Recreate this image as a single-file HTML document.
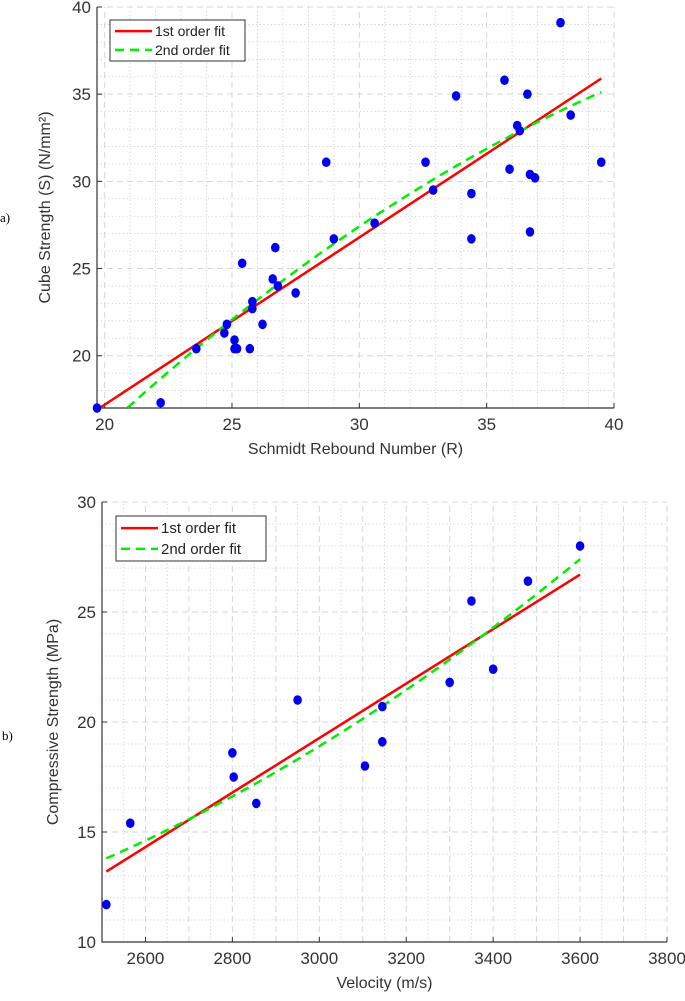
<!DOCTYPE html>
<html><head><meta charset="utf-8">
<style>
html,body{margin:0;padding:0;background:#fff;}
svg{display:block;font-family:"Liberation Sans",sans-serif;}
</style></head>
<body>
<svg id="chart" width="685" height="1001" viewBox="0 0 685 1001">
<text x="0" y="222" font-family="Liberation Serif,serif" font-size="13" fill="#000">a)</text>
<text x="2" y="740" font-family="Liberation Serif,serif" font-size="13" fill="#000">b)</text>
</svg>
<script>
// ---- Chart A data ----
const aRebound = [19.7,22.2,23.6,24.7,24.8,25.1,25.1,25.2,25.4,25.7,25.8,25.8,26.2,26.6,26.7,26.8,27.5,28.7,29.0,30.6,32.6,32.9,33.8,34.4,34.4,35.7,35.9,36.2,36.3,36.6,36.7,36.7,36.9,37.9,38.3,39.5];
const aStrength = [17.0,17.3,20.4,21.3,21.8,20.9,20.4,20.4,25.3,20.4,23.1,22.7,21.8,24.4,26.2,24.0,23.6,31.1,26.7,27.6,31.1,29.5,34.9,29.3,26.7,35.8,30.7,33.2,32.9,35.0,30.4,27.1,30.2,39.1,33.8,31.1];
const aFit1 = [19.7,16.9,39.5,35.9];            // x0,y0,x1,y1
const aFit2Coef = [30.5,27.9,0.962,-0.0178];     // center, a, b, c
const aFit2Range = [20.9,39.5];
const aXTicks = [20,25,30,35,40];
const aYTicks = [20,25,30,35,40];
// ---- Chart B data ----
const bVelocity = [2510,2565,2800,2803,2855,2950,3105,3145,3145,3300,3350,3400,3480,3600];
const bStrength = [11.7,15.4,18.6,17.5,16.3,21.0,18.0,20.7,19.1,21.8,25.5,22.4,26.4,28.0];
const bFit1 = [2510,13.2,3600,26.7];
const bFit2Coef = [3000,18.9,0.012098,3.449e-6];
const bFit2Range = [2510,3600];
const bXTicks = [2600,2800,3000,3200,3400,3600,3800];
const bYTicks = [10,15,20,25,30];

const svg = document.getElementById('chart');
const NS = 'http://www.w3.org/2000/svg';
function mk(tag, attrs, parent){const e=document.createElementNS(NS,tag);for(const k in attrs)e.setAttribute(k,attrs[k]);(parent||svg).appendChild(e);return e;}

function drawChart(cfg){
  const g = mk('g',{});
  
  
  const sx = v => cfg.px0 + (v-cfg.x0)/(cfg.x1-cfg.x0)*(cfg.px1-cfg.px0);
  const sy = v => cfg.py0 - (v-cfg.y0)/(cfg.y1-cfg.y0)*(cfg.py0-cfg.py1);
  for(let v=Math.ceil(cfg.x0/cfg.xMinor)*cfg.xMinor; v<=cfg.x1+1e-9; v+=cfg.xMinor){
    const major = Math.abs(v/cfg.xMajor-Math.round(v/cfg.xMajor))<1e-6;
    const l=mk('line',{x1:sx(v),x2:sx(v),y1:cfg.py0,y2:cfg.py1,stroke:major?'#d6d6d6':'#c8c8c8','stroke-width':major?1:0.8,'stroke-dasharray':major?'6,4':'1.2,2.5'},g);
    
    
  }
  for(let v=Math.ceil(cfg.y0/cfg.yMinor)*cfg.yMinor; v<=cfg.y1+1e-9; v+=cfg.yMinor){
    const major = Math.abs(v/cfg.yMajor-Math.round(v/cfg.yMajor))<1e-6;
    const l=mk('line',{x1:cfg.px0,x2:cfg.px1,y1:sy(v),y2:sy(v),stroke:major?'#d6d6d6':'#c8c8c8','stroke-width':major?1:0.8,'stroke-dasharray':major?'6,4':'1.2,2.5'},g);
    
    
  }
  const ax=mk('path',{d:`M${cfg.px0},${cfg.py1} L${cfg.px0},${cfg.py0} L${cfg.px1},${cfg.py0}`,fill:'none',stroke:'#333','stroke-width':1.2},g);
  
  
  cfg.xTicks.forEach(t=>{
    mk('line',{x1:sx(t),x2:sx(t),y1:cfg.py0,y2:cfg.py0-5,stroke:'#333'},g);
    const tx=mk('text',{x:sx(t),y:cfg.py0+22,'text-anchor':'middle','font-size':17,fill:'#333'},g);
    tx.textContent=t;
    
    
  });
  cfg.yTicks.forEach(t=>{
    mk('line',{x1:cfg.px0,x2:cfg.px0+5,y1:sy(t),y2:sy(t),stroke:'#333'},g);
    const tx=mk('text',{x:cfg.px0-6,y:sy(t)+6,'text-anchor':'end','font-size':17,fill:'#333'},g);
    tx.textContent=t;
    
    
  });
  const xt=mk('text',{x:(cfg.px0+cfg.px1)/2,y:cfg.py0+46,'text-anchor':'middle','font-size':16,fill:'#333'},g);
  xt.textContent=cfg.xTitle;
  
  
  const yc=(cfg.py0+cfg.py1)/2;
  const yt=mk('text',{x:cfg.yTitleX,y:yc,'text-anchor':'middle','font-size':16,fill:'#333',transform:`rotate(-90 ${cfg.yTitleX} ${yc})`},g);
  yt.textContent=cfg.yTitle;
  
  
  const f1=mk('line',{x1:sx(cfg.fit1[0]),y1:sy(cfg.fit1[1]),x2:sx(cfg.fit1[2]),y2:sy(cfg.fit1[3]),stroke:'#ff0000','stroke-width':2.5},g);
  
  
  const c=cfg.fit2;let pts=[];
  for(let i=0;i<=60;i++){const x=cfg.fit2r[0]+(cfg.fit2r[1]-cfg.fit2r[0])*i/60;const u=x-c[0];pts.push(sx(x).toFixed(1)+','+sy(c[1]+c[2]*u+c[3]*u*u).toFixed(1));}
  const f2=mk('polyline',{points:pts.join(' '),fill:'none',stroke:'#00ee00','stroke-width':2.5,'stroke-dasharray':'9,6'},g);
  
  
  cfg.xs.forEach((x,i)=>{
    const p=mk('ellipse',{cx:sx(x),cy:sy(cfg.ys[i]),rx:4.3,ry:4.8,fill:'#0000ee'},g);
    
    
  });
  const L=cfg.legend;
  const lg=mk('g',{},g);
  
  
  mk('rect',{x:L[0],y:L[1],width:L[2],height:L[3],fill:'#fff',stroke:'#333','stroke-width':1},lg);
  const r1=L[1]+L[3]*0.27, r2=L[1]+L[3]*0.73;
  mk('line',{x1:L[0]+5,x2:L[0]+42,y1:r1,y2:r1,stroke:'#ff0000','stroke-width':2.5},lg);
  mk('line',{x1:L[0]+5,x2:L[0]+42,y1:r2,y2:r2,stroke:'#00ee00','stroke-width':2.5,'stroke-dasharray':'9,6'},lg);
  const t1=mk('text',{x:L[0]+45,y:r1+5,'font-size':L[4],fill:'#222'},lg);t1.textContent='1st order fit';
  
  
  const t2=mk('text',{x:L[0]+45,y:r2+5,'font-size':L[4],fill:'#222'},lg);t2.textContent='2nd order fit';
  
  
}

drawChart({name:'chart-a-schmidt',x0:19.7,x1:40,y0:17,y1:40,px0:97,px1:614,py0:408,py1:7,
  xMinor:1,xMajor:5,yMinor:1,yMajor:5,xTicks:aXTicks,yTicks:aYTicks,
  xTitle:'Schmidt Rebound Number (R)',yTitle:'Cube Strength (S) (N/mm²)',yTitleX:50,
  fit1:aFit1,fit2:aFit2Coef,fit2r:aFit2Range,xs:aRebound,ys:aStrength,legend:[110,20,135,41,14]});
drawChart({name:'chart-b-velocity',x0:2500,x1:3800,y0:10,y1:30,px0:102,px1:667,py0:942,py1:502,
  xMinor:50,xMajor:100,yMinor:1,yMajor:5,xTicks:bXTicks,yTicks:bYTicks,
  xTitle:'Velocity (m/s)',yTitle:'Compressive Strength (MPa)',yTitleX:58,
  fit1:bFit1,fit2:bFit2Coef,fit2r:bFit2Range,xs:bVelocity,ys:bStrength,legend:[116,516,150,45,15]});
</script>
</body></html>
